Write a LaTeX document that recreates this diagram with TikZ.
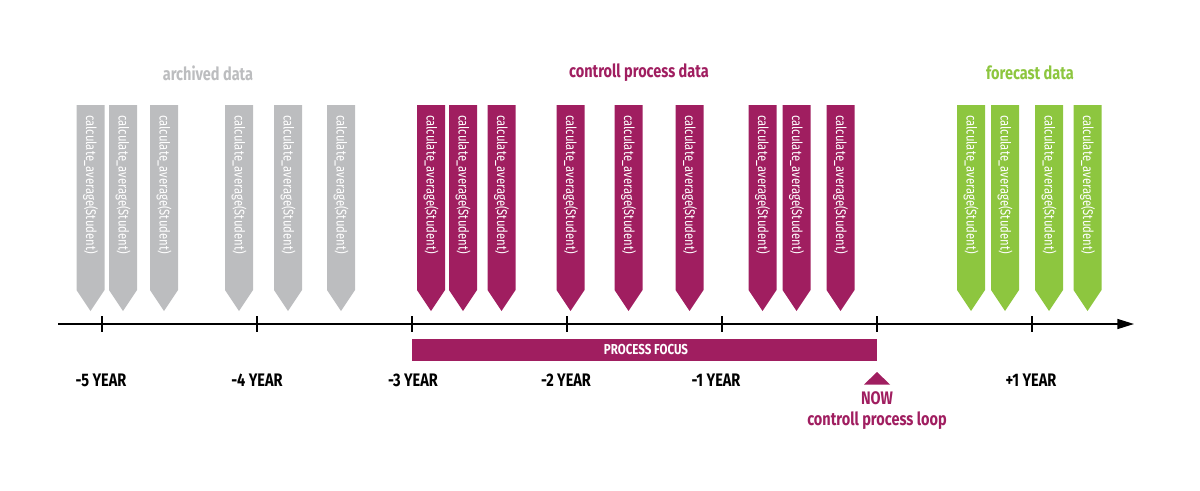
\documentclass[tikz,border=0pt]{standalone}
\usepackage{fontspec}
\setmainfont{Fira Sans}[FakeStretch=0.8]
\usetikzlibrary{arrows.meta}
\definecolor{archgray}{RGB}{188,189,191}
\definecolor{ctrlpurple}{RGB}{160,30,96}
\definecolor{fcgreen}{RGB}{141,198,63}

\begin{document}
\begin{tikzpicture}[
  x=0.75pt, y=-0.75pt,
  % flags: 28px wide, body 105..290, tip at 311
  flagtext/.style={rotate=-90, anchor=west, inner sep=0pt, text=white,
    font=\fontsize{10.6pt}{10.6pt}\selectfont},
  heading/.style={inner sep=0pt, font=\bfseries\fontsize{13.6pt}{13.6pt}\selectfont},
  yearlabel/.style={inner sep=0pt, font=\bfseries\fontsize{13.6pt}{13.6pt}\selectfont},
  axisline/.style={line width=1.1pt, -{Triangle[length=12.5pt, width=7.5pt]}},
  tickline/.style={line width=1pt}
]
  \useasboundingbox (0,0) rectangle (1200,490);
  % ---- flags ----
  \foreach \cx/\col [count=\i] in {90.5/archgray, 123/archgray, 164/archgray,
      239/archgray, 288/archgray, 341/archgray,
      431/ctrlpurple, 463/ctrlpurple, 501.5/ctrlpurple, 570.5/ctrlpurple,
      628.5/ctrlpurple, 689.5/ctrlpurple, 762.5/ctrlpurple, 796.5/ctrlpurple,
      840.5/ctrlpurple,
      971/fcgreen, 1005/fcgreen, 1049/fcgreen, 1087.5/fcgreen} {
    \fill[\col] (\cx-14,105) -- (\cx+14,105) -- (\cx+14,290) -- (\cx,311)
      -- (\cx-14,290) -- cycle;
    \node[flagtext] (flag\i) at (\cx,115) {calculate\_average(Student)};
  }
  % ---- headings ----
  \node[heading, text=archgray]   (harch) at (208,73)  {archived data};
  \node[heading, text=ctrlpurple] (hctrl) at (639,73)  {controll process data};
  \node[heading, text=fcgreen]    (hfc)   at (1030,73) {forecast data};
  % ---- time axis ----
  \coordinate (axstart) at (58,324);
  \coordinate (axend)   at (1134,324);
  \draw[axisline] (axstart) -- (axend);
  \foreach \tx [count=\j] in {102,257,412,567,722,877,1032} {
    \coordinate (tick\j) at (\tx,324);
    \draw[tickline] (\tx,316) -- (\tx,332);
  }
  % ---- process focus bar ----
  \fill[ctrlpurple] (412,339) rectangle (877,361);
  \node[text=white, inner sep=0pt, font=\bfseries\fontsize{10.8pt}{10.8pt}\selectfont]
    (focus) at (646,350) {PROCESS FOCUS};
  % ---- year labels ----
  \node[yearlabel] (ym5) at (101,380)  {-5 YEAR};
  \node[yearlabel] (ym4) at (257,380)  {-4 YEAR};
  \node[yearlabel] (ym3) at (413,380)  {-3 YEAR};
  \node[yearlabel] (ym2) at (566,380)  {-2 YEAR};
  \node[yearlabel] (ym1) at (716,380)  {-1 YEAR};
  \node[yearlabel] (yp1) at (1031,380) {+1 YEAR};
  % ---- now marker ----
  \fill[ctrlpurple] (864,384.5) -- (890,384.5) -- (877,372) -- cycle;
  \node[yearlabel, text=ctrlpurple] (now)  at (877,398) {NOW};
  \node[yearlabel, text=ctrlpurple] (loop) at (877,421) {controll process loop};
\end{tikzpicture}
\end{document}
